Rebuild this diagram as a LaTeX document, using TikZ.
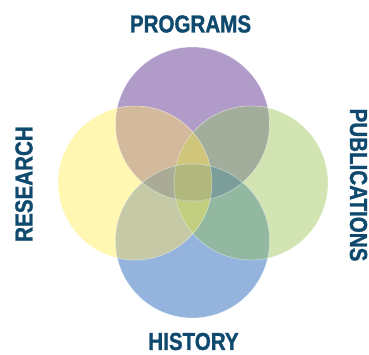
\documentclass[tikz,border=0pt]{standalone}
\usepackage{fontspec}
\setmainfont{Liberation Sans}[FakeStretch=0.84, FakeBold=1.2]
\usepackage{tikz}

\definecolor{labelblue}{HTML}{0F4A6E}
% single circles
\definecolor{progcol}{HTML}{B09BC9}
\definecolor{rescol}{HTML}{FFF7B2}
\definecolor{pubcol}{HTML}{D1E4B1}
\definecolor{histcol}{HTML}{94B4DE}
% overlaps
\definecolor{progres}{HTML}{D4BA9C}
\definecolor{progpub}{HTML}{A3AD9C}
\definecolor{reshist}{HTML}{C5C9A6}
\definecolor{pubhist}{HTML}{93B8A1}
\definecolor{progrespub}{HTML}{CFC57B}
\definecolor{respubhist}{HTML}{C2CF80}
\definecolor{progreshist}{HTML}{AAAB97}
\definecolor{progpubhist}{HTML}{7C9E9A}
\definecolor{allfour}{HTML}{B0B87E}

\def\progc{(192.5,124) circle (77pt)}
\def\resc{(135,183) circle (77pt)}
\def\pubc{(251,183) circle (77pt)}
\def\histc{(192.5,241) circle (77pt)}

\begin{document}
\begin{tikzpicture}[
            x = 1pt, y = -1pt,
            label/.style = {
                text = labelblue,
                font = \bfseries\fontsize{24.5}{25}\selectfont,
                inner sep = 0pt
            }
        ]

        \useasboundingbox (0,0) rectangle (369,354);

        % the four circles
        \fill[progcol] \progc;
        \fill[rescol] \resc;
        \fill[pubcol] \pubc;
        \fill[histcol] \histc;

        % two at a time
        \begin{scope} \clip \progc; \fill[progres] \resc; \fill[progpub] \pubc; \end{scope}
        \begin{scope} \clip \histc; \fill[reshist] \resc; \fill[pubhist] \pubc; \end{scope}

        % three at a time
        \begin{scope} \clip \resc; \clip \pubc;
            \fill[progrespub] \progc; \fill[respubhist] \histc;
        \end{scope}
        \begin{scope} \clip \progc; \clip \histc;
            \fill[progreshist] \resc; \fill[progpubhist] \pubc;
        \end{scope}

        % middle
        \begin{scope} \clip \progc; \clip \histc; \clip \resc;
            \fill[allfour] \pubc;
        \end{scope}

        % light rims
        \draw[white, opacity = 0.45, line width = 0.6pt] \progc \resc \pubc \histc;

        \node[label] (programs) at (190.5,24) {PROGRAMS};
        \node[label, rotate = 90] (research) at (24,184) {RESEARCH};
        \node[label, rotate = -90] (publications) at (358.5,185) {PUBLICATIONS};
        \node[label] (history) at (193.5,341.5) {HISTORY};

\end{tikzpicture}
\end{document}
